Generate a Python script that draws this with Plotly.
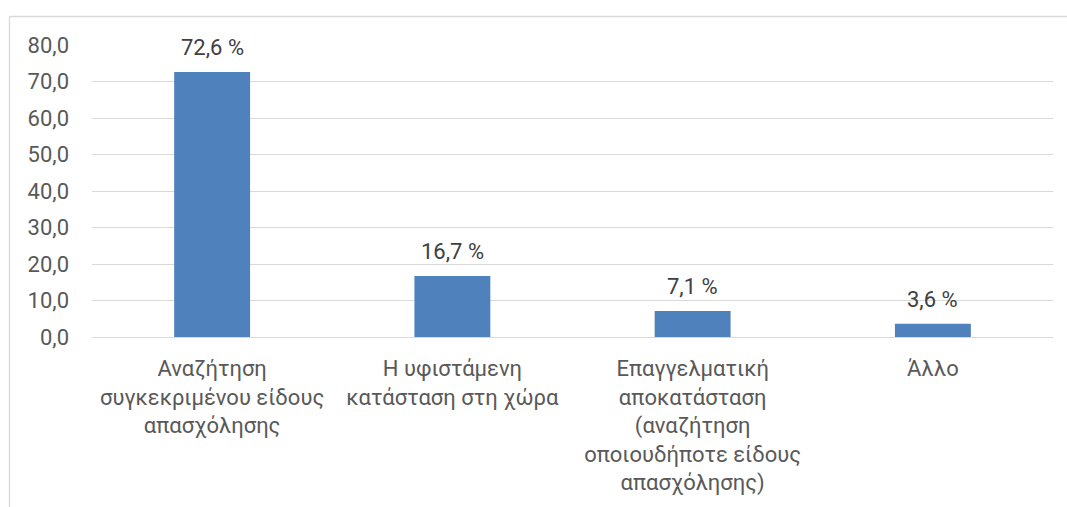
import plotly.graph_objects as go

categories = [
    "Αναζήτηση<br>συγκεκριμένου είδους<br>απασχόλησης",
    "Η υφιστάμενη<br>κατάσταση στη χώρα",
    "Επαγγελματική<br>αποκατάσταση<br>(αναζήτηση<br>οποιουδήποτε είδους<br>απασχόλησης)",
    "Άλλο",
]
values = [72.6, 16.7, 7.1, 3.6]
tick_vals = [0, 10, 20, 30, 40, 50, 60, 70, 80]
tick_text = ["0,0", "10,0", "20,0", "30,0", "40,0", "50,0", "60,0", "70,0", "80,0"]
value_labels = [f"{v:.1f} %".replace(".", ",") for v in values]

W, H = 1067, 507
L, R, T, B = 92, 14, 45, 170
pw, ph = W - L - R, H - T - B
FONT = "Roboto"
FS = 22

fig = go.Figure()
fig.add_trace(go.Bar(
    x=categories, y=values,
    marker=dict(color="#4F81BD", line=dict(width=0)),
    width=0.316,
    hoverinfo="skip",
))

for c, v, t in zip(categories, values, value_labels):
    fig.add_annotation(x=c, y=v, text=t, showarrow=False, yanchor="bottom",
                       yshift=10, font=dict(family=FONT, size=FS, color="#404040"))

def px_x(p):
    return (p - L) / pw

def px_y(p):
    return (H - B - p) / ph

frame = dict(color="#D9D9D9", width=1.3)
fig.add_shape(type="line", xref="paper", yref="paper",
              x0=px_x(9.5), x1=px_x(1070), y0=px_y(16.5), y1=px_y(16.5), line=frame)
fig.add_shape(type="line", xref="paper", yref="paper",
              x0=px_x(9.5), x1=px_x(9.5), y0=px_y(16.5), y1=px_y(510), line=frame)

fig.update_layout(
    width=W, height=H,
    margin=dict(l=L, r=R, t=T, b=B, autoexpand=False),
    paper_bgcolor="white", plot_bgcolor="white",
    showlegend=False,
    bargap=0.684,
    font=dict(family=FONT, size=FS, color="#595959"),
    xaxis=dict(showgrid=False, showline=False, ticks="", ticklabelstandoff=16,
               tickfont=dict(family=FONT, size=FS, color="#595959")),
    yaxis=dict(range=[0, 80], tickvals=tick_vals, ticktext=tick_text,
               showgrid=True, gridcolor="#D9D9D9", gridwidth=1.3,
               zeroline=True, zerolinecolor="#D9D9D9", zerolinewidth=1.3,
               showline=False, ticks="", ticklabelstandoff=22,
               tickfont=dict(family=FONT, size=FS, color="#595959")),
)

fig.write_html("out.html", config={"displayModeBar": False},
               post_script="document.body.style.margin='0';document.body.style.overflow='hidden';")
